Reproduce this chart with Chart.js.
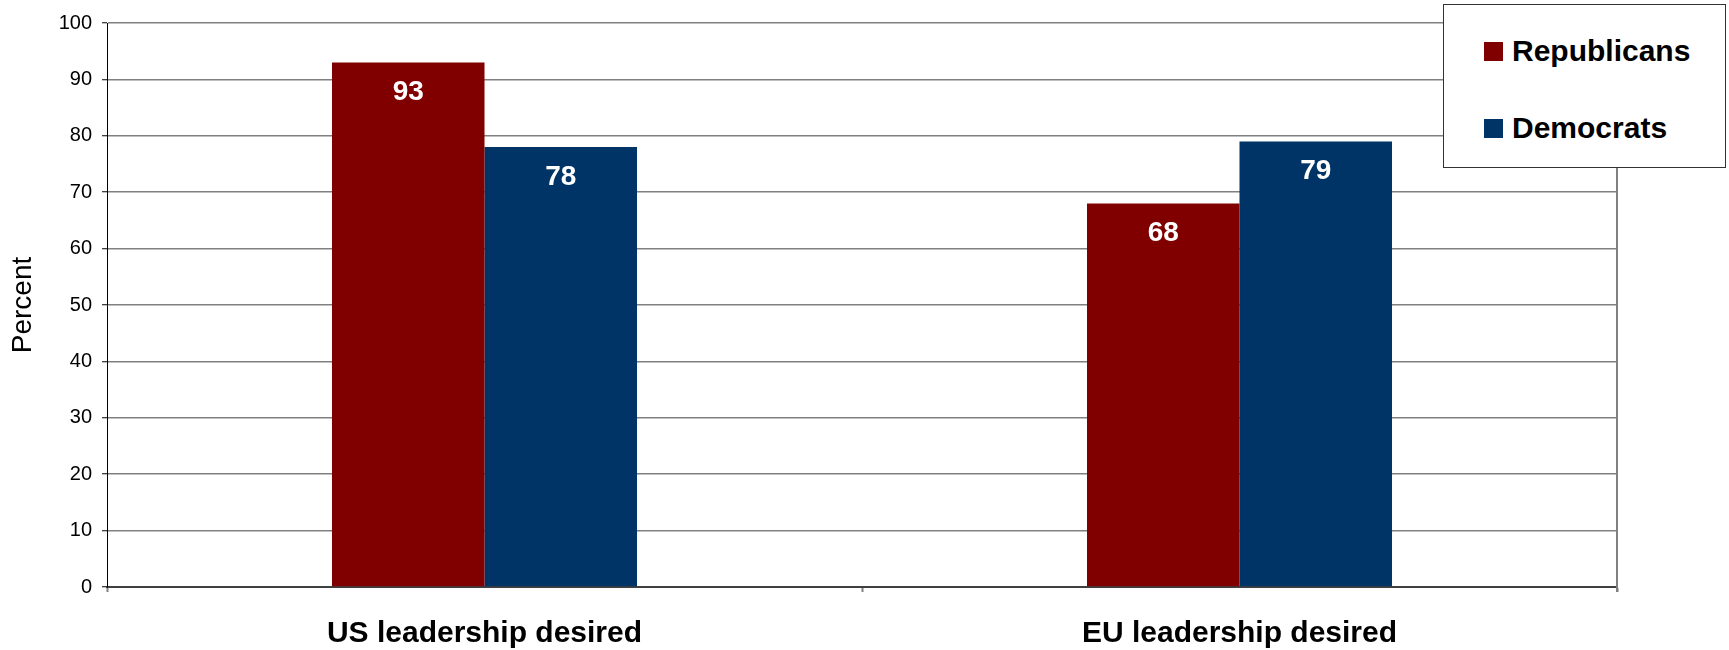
<!DOCTYPE html>
<html>
<head>
<meta charset="utf-8">
<script src="https://cdn.jsdelivr.net/npm/chart.js@4"></script>
<style>
  html, body { margin: 0; padding: 0; background: #fff; }
  #wrap { position: relative; width: 1729px; height: 650px; }
  #legend {
    position: absolute; left: 1443px; top: 4px; width: 283px; height: 164px;
    border: 1.5px solid #333; background: #fff; box-sizing: border-box;
    font-family: "Liberation Sans", Arial, sans-serif; font-weight: bold; font-size: 30px; color: #000;
  }
  .item { position: absolute; left: 40px; height: 32px; display: flex; align-items: center; }
  .sw { width: 19px; height: 19px; margin-right: 9px; }
</style>
</head>
<body>
<div id="wrap">
  <canvas id="c" width="1729" height="650"></canvas>
  <div id="legend"></div>
</div>
<script>
const categories = ["US leadership desired", "EU leadership desired"];
const seriesNames = ["Republicans", "Democrats"];
const republicans = [93, 68];
const democrats = [78, 79];
const seriesColors = ["#800000", "#003366"];
const yTicks = [0, 10, 20, 30, 40, 50, 60, 70, 80, 90, 100];

const FONT = '"Liberation Sans", Arial, sans-serif';

const valueLabels = {
  id: 'valueLabels',
  afterDatasetsDraw(chart) {
    const ctx = chart.ctx;
    ctx.save();
    ctx.fillStyle = '#fff';
    ctx.font = 'bold 28px ' + FONT;
    ctx.textAlign = 'center';
    ctx.textBaseline = 'middle';
    chart.data.datasets.forEach((ds, i) => {
      chart.getDatasetMeta(i).data.forEach((bar, j) => {
        ctx.fillText(String(ds.data[j]), bar.x, bar.y + 30);
      });
    });
    ctx.restore();
  }
};

const rightBorder = {
  id: 'rightBorder',
  afterDraw(chart) {
    const {ctx, chartArea} = chart;
    ctx.save();
    ctx.strokeStyle = '#808080';
    ctx.lineWidth = 2;
    ctx.beginPath();
    ctx.moveTo(chartArea.right, chartArea.top);
    ctx.lineTo(chartArea.right, chartArea.bottom + 5);
    ctx.stroke();
    ctx.restore();
  }
};

const chart = new Chart(document.getElementById('c'), {
  type: 'bar',
  data: {
    labels: categories,
    datasets: [
      { label: seriesNames[0], data: republicans, backgroundColor: seriesColors[0] },
      { label: seriesNames[1], data: democrats, backgroundColor: seriesColors[1] }
    ]
  },
  options: {
    responsive: false,
    animation: false,
    layout: { padding: { left: 0, right: 112, top: 23, bottom: 1 } },
    plugins: { legend: { display: false }, tooltip: { enabled: false } },
    datasets: { bar: { categoryPercentage: 0.404, barPercentage: 1.0 } },
    scales: {
      x: {
        afterFit(scale) { scale.height = 62; },
        grid: { display: true, drawOnChartArea: false, drawTicks: true, tickLength: 5, offset: true, tickColor: '#808080', tickWidth: 2 },
        border: { display: true, color: '#404040', width: 2 },
        ticks: { color: '#000', padding: 24, font: { family: FONT, size: 30, weight: 'bold' } }
      },
      y: {
        min: 0, max: 100,
        afterBuildTicks(scale) { scale.ticks = yTicks.map(v => ({ value: v })); },
        afterFit(scale) { scale.width = 107; },
        grid: { color: '#808080', lineWidth: 1.5, drawTicks: true, tickLength: 5, tickColor: '#000', tickWidth: 1 },
        border: { display: true, color: '#000', width: 1 },
        ticks: { color: '#000', padding: 10, font: { family: FONT, size: 20 } },
        title: { display: true, text: 'Percent', color: '#000', padding: { top: 6, bottom: 0 }, font: { family: FONT, size: 28 } }
      }
    }
  },
  plugins: [valueLabels, rightBorder]
});

// HTML legend built from the datasets
const legend = document.getElementById('legend');
chart.data.datasets.forEach((ds, i) => {
  const it = document.createElement('div');
  it.className = 'item';
  it.style.top = (i === 0 ? 30 : 107) + 'px';
  const sw = document.createElement('span');
  sw.className = 'sw';
  sw.style.background = ds.backgroundColor;
  const tx = document.createElement('span');
  tx.textContent = ds.label;
  it.appendChild(sw); it.appendChild(tx);
  legend.appendChild(it);
});
</script>
</body>
</html>
